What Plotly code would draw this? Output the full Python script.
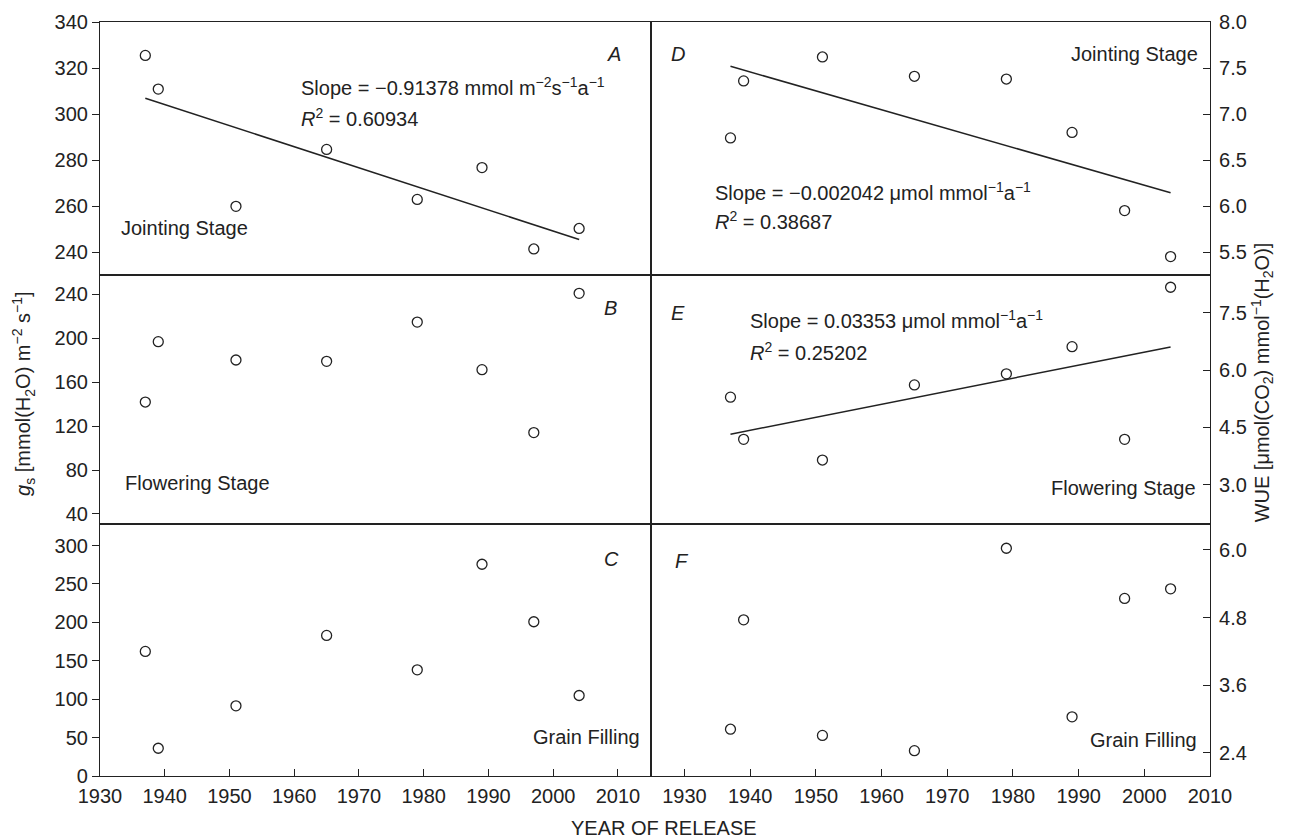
import numpy as np
import plotly.graph_objects as go
from plotly.subplots import make_subplots

# ---------------- data ----------------
years = [1937, 1939, 1951, 1965, 1979, 1989, 1997, 2004]

gs_jointing = [325.5, 310.9, 260.0, 284.7, 263.0, 276.8, 241.5, 250.4]
gs_flowering = [141.8, 196.7, 180.0, 178.8, 214.5, 171.2, 114.0, 240.6]
gs_grain = [162.2, 36.1, 91.3, 183.0, 138.2, 275.6, 200.8, 104.8]

wue_jointing = [6.74, 7.36, 7.62, 7.41, 7.38, 6.80, 5.95, 5.45]
wue_flowering = [5.29, 4.19, 3.65, 5.61, 5.90, 6.61, 4.19, 8.16]
wue_grain = [2.82, 4.76, 2.71, 2.44, 6.03, 3.04, 5.14, 5.31]

x_ticks = [1930, 1940, 1950, 1960, 1970, 1980, 1990, 2000, 2010]
gs_j_ticks = [240, 260, 280, 300, 320, 340]
gs_f_ticks = [40, 80, 120, 160, 200, 240]
gs_g_ticks = [0, 50, 100, 150, 200, 250, 300]
wue_j_ticks = [5.5, 6.0, 6.5, 7.0, 7.5, 8.0]
wue_f_ticks = [3.0, 4.5, 6.0, 7.5]
wue_g_ticks = [2.4, 3.6, 4.8, 6.0]

FONT = "Liberation Sans, Arial, sans-serif"
INK = "#222222"
FS = 20

fig = make_subplots(rows=3, cols=2, column_widths=[551, 559],
                    row_heights=[253, 249, 252],
                    horizontal_spacing=0, vertical_spacing=0)

panels = [
    (1, 1, gs_jointing, True),
    (1, 2, wue_jointing, True),
    (2, 1, gs_flowering, False),
    (2, 2, wue_flowering, True),
    (3, 1, gs_grain, False),
    (3, 2, wue_grain, False),
]

for r, c, vals, trend in panels:
    fig.add_trace(go.Scatter(
        x=years, y=vals, mode="markers",
        marker=dict(symbol="circle-open", size=10, color=INK,
                    line=dict(width=1.3, color=INK)),
        showlegend=False, hoverinfo="x+y"), row=r, col=c)
    if trend:
        b, a = np.polyfit(years, vals, 1)
        xs = [years[0], years[-1]]
        fig.add_trace(go.Scatter(
            x=xs, y=[a + b * xv for xv in xs], mode="lines",
            line=dict(color=INK, width=1.5), showlegend=False,
            hoverinfo="skip"), row=r, col=c)

axis_common = dict(showline=True, mirror=True, linecolor=INK, linewidth=1.2,
                   showgrid=False, zeroline=False, tickcolor=INK,
                   tickwidth=1.3, ticklen=7,
                   tickfont=dict(family=FONT, size=FS, color=INK))

left_range = [1930, 2015.1]
right_range = [1924.9, 2010]

for r in (1, 2, 3):
    for c in (1, 2):
        xr = left_range if c == 1 else right_range
        if r == 3:
            fig.update_xaxes(range=xr, tickvals=x_ticks, ticks="inside",
                             showticklabels=True, ticklabelstandoff=2,
                             row=r, col=c, **axis_common)
        else:
            fig.update_xaxes(range=xr, ticks="", showticklabels=False,
                             row=r, col=c, **axis_common)

fig.update_yaxes(range=[230.2, 340], tickvals=gs_j_ticks, ticks="outside",
                 row=1, col=1, **axis_common)
fig.update_yaxes(range=[30.9, 257.3], tickvals=gs_f_ticks, ticks="outside",
                 row=2, col=1, **axis_common)
fig.update_yaxes(range=[0, 328], tickvals=gs_g_ticks, ticks="outside",
                 row=3, col=1, **axis_common)

fig.update_yaxes(range=[5.25, 8.0], tickvals=wue_j_ticks, tickformat=".1f",
                 side="right", ticks="inside", ticklabelstandoff=4,
                 row=1, col=2, **axis_common)
fig.update_yaxes(range=[1.98, 8.48], tickvals=wue_f_ticks, tickformat=".1f",
                 side="right", ticks="inside", ticklabelstandoff=4,
                 row=2, col=2, **axis_common)
fig.update_yaxes(range=[1.99, 6.46], tickvals=wue_g_ticks, tickformat=".1f",
                 side="right", ticks="inside", ticklabelstandoff=4,
                 row=3, col=2, **axis_common)

tf = dict(family=FONT, size=FS, color=INK)


def note(text, x, y, xref, yref, xanchor="left"):
    fig.add_annotation(text=text, x=x, y=y, xref=xref, yref=yref,
                       xanchor=xanchor, yanchor="middle", showarrow=False,
                       font=tf)


# Panel A
note("<i>A</i>", 2009.4, 326.3, "x", "y", "center")
note("Slope = −0.91378 mmol m<sup>−2</sup>s<sup>−1</sup>a<sup>−1</sup>", 1960.7, 312, "x", "y")
note("<i>R</i><sup>2</sup> = 0.60934", 1960.7, 298.7, "x", "y")
note("Jointing Stage", 1933.0, 250.5, "x", "y")
# Panel D
note("<i>D</i>", 1929.0, 7.65, "x2", "y2", "center")
note("Jointing Stage", 2008.5, 7.65, "x2", "y2", "right")
note("Slope = −0.002042 μmol mmol<sup>−1</sup>a<sup>−1</sup>", 1934.3, 6.16, "x2", "y2")
note("<i>R</i><sup>2</sup> = 0.38687", 1934.3, 5.84, "x2", "y2")
# Panel B
note("<i>B</i>", 2008.8, 227, "x3", "y3", "center")
note("Flowering Stage", 1933.6, 68, "x3", "y3")
# Panel E
note("<i>E</i>", 1929.0, 7.5, "x4", "y4", "center")
note("Slope = 0.03353 μmol mmol<sup>−1</sup>a<sup>−1</sup>", 1939.7, 7.31, "x4", "y4")
note("<i>R</i><sup>2</sup> = 0.25202", 1939.7, 6.48, "x4", "y4")
note("Flowering Stage", 2008.2, 2.91, "x4", "y4", "right")
# Panel C
note("<i>C</i>", 2009.0, 282, "x5", "y5", "center")
note("Grain Filling", 2013.7, 50.9, "x5", "y5", "right")
# Panel F
note("<i>F</i>", 1929.6, 5.81, "x6", "y6", "center")
note("Grain Filling", 2008.3, 2.63, "x6", "y6", "right")

# Axis titles
fig.add_annotation(text="YEAR OF RELEASE", x=0.508, y=-0.069, xref="paper",
                   yref="paper", xanchor="center", yanchor="middle",
                   showarrow=False, font=tf)
fig.add_annotation(text="<i>g</i><sub>s</sub> [mmol(H<sub>2</sub>O) m<sup>−2</sup> s<sup>−1</sup>]",
                   x=-0.0685, y=0.508, xref="paper", yref="paper",
                   xanchor="center", yanchor="middle", textangle=-90,
                   showarrow=False, font=tf)
fig.add_annotation(text="WUE [μmol(CO<sub>2</sub>) mmol<sup>−1</sup>(H<sub>2</sub>O)]",
                   x=1.0468, y=0.522, xref="paper", yref="paper",
                   xanchor="center", yanchor="middle", textangle=-90,
                   showarrow=False, font=tf)

fig.update_layout(width=1290, height=839,
                  margin=dict(l=100, r=80, t=22, b=63),
                  paper_bgcolor="white", plot_bgcolor="white",
                  font=tf, showlegend=False)

fig.write_html("out.html")
